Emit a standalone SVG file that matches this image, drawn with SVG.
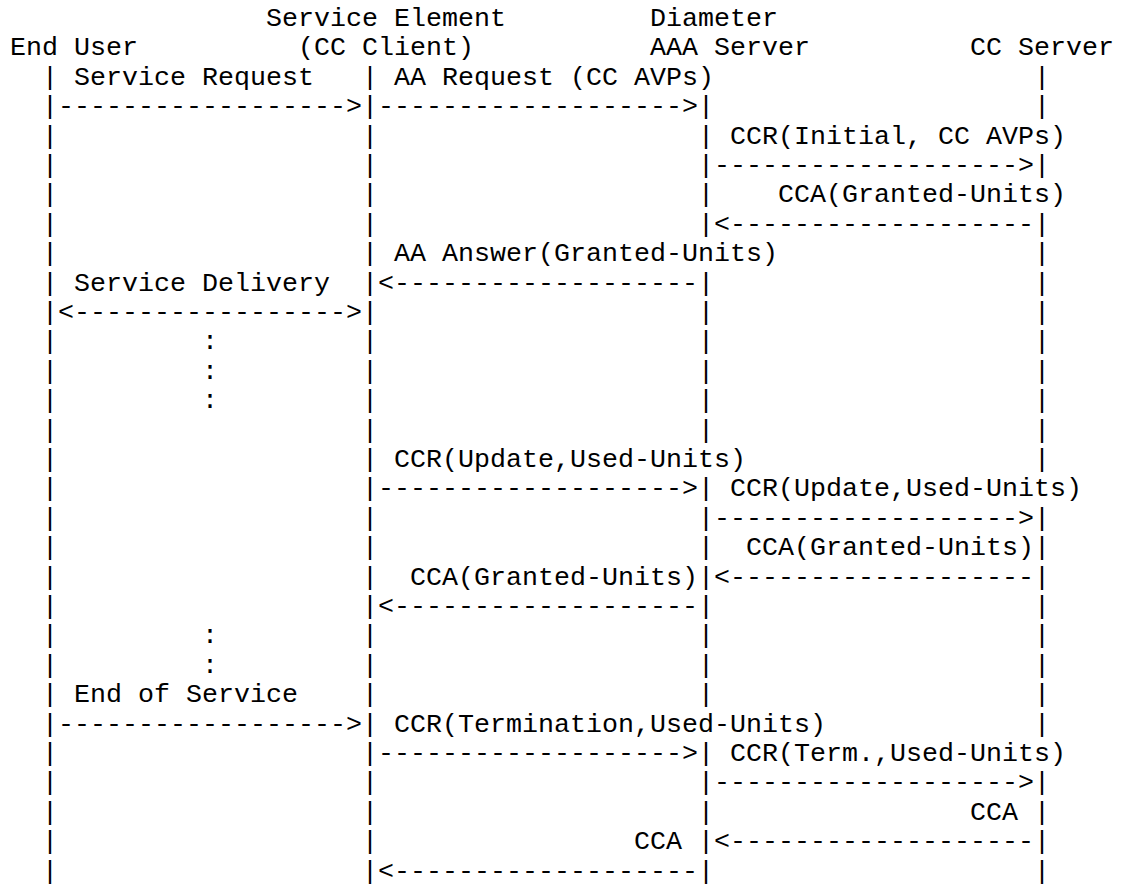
<svg xmlns="http://www.w3.org/2000/svg" width="1122" height="884" viewBox="0 0 1122 884">
<style>
text{font-family:"Liberation Mono","Courier New",monospace;font-size:26.667px;fill:#000;white-space:pre}
</style>
<rect width="1122" height="884" fill="#fff"/>
<g id="end-user">
<text x="10" y="55.4">End User</text>
<text><tspan x="42" y="84.8">|</tspan><tspan x="42" y="114.2">|</tspan><tspan x="42" y="143.6">|</tspan><tspan x="42" y="173">|</tspan><tspan x="42" y="202.4">|</tspan><tspan x="42" y="231.8">|</tspan><tspan x="42" y="261.2">|</tspan><tspan x="42" y="290.6">|</tspan><tspan x="42" y="320">|</tspan><tspan x="42" y="349.4">|</tspan><tspan x="42" y="378.8">|</tspan><tspan x="42" y="408.2">|</tspan><tspan x="42" y="437.6">|</tspan><tspan x="42" y="467">|</tspan><tspan x="42" y="496.4">|</tspan><tspan x="42" y="525.8">|</tspan><tspan x="42" y="555.2">|</tspan><tspan x="42" y="584.6">|</tspan><tspan x="42" y="614">|</tspan><tspan x="42" y="643.4">|</tspan><tspan x="42" y="672.8">|</tspan><tspan x="42" y="702.2">|</tspan><tspan x="42" y="731.6">|</tspan><tspan x="42" y="761">|</tspan><tspan x="42" y="790.4">|</tspan><tspan x="42" y="819.8">|</tspan><tspan x="42" y="849.2">|</tspan><tspan x="42" y="878.6">|</tspan></text>
</g>
<g id="service-element">
<text x="266" y="26">Service Element</text>
<text x="298" y="55.4">(CC Client)</text>
<text><tspan x="362" y="84.8">|</tspan><tspan x="362" y="114.2">|</tspan><tspan x="362" y="143.6">|</tspan><tspan x="362" y="173">|</tspan><tspan x="362" y="202.4">|</tspan><tspan x="362" y="231.8">|</tspan><tspan x="362" y="261.2">|</tspan><tspan x="362" y="290.6">|</tspan><tspan x="362" y="320">|</tspan><tspan x="362" y="349.4">|</tspan><tspan x="362" y="378.8">|</tspan><tspan x="362" y="408.2">|</tspan><tspan x="362" y="437.6">|</tspan><tspan x="362" y="467">|</tspan><tspan x="362" y="496.4">|</tspan><tspan x="362" y="525.8">|</tspan><tspan x="362" y="555.2">|</tspan><tspan x="362" y="584.6">|</tspan><tspan x="362" y="614">|</tspan><tspan x="362" y="643.4">|</tspan><tspan x="362" y="672.8">|</tspan><tspan x="362" y="702.2">|</tspan><tspan x="362" y="731.6">|</tspan><tspan x="362" y="761">|</tspan><tspan x="362" y="790.4">|</tspan><tspan x="362" y="819.8">|</tspan><tspan x="362" y="849.2">|</tspan><tspan x="362" y="878.6">|</tspan></text>
</g>
<g id="aaa-server">
<text x="650" y="26">Diameter</text>
<text x="650" y="55.4">AAA Server</text>
<text><tspan x="698" y="114.2">|</tspan><tspan x="698" y="143.6">|</tspan><tspan x="698" y="173">|</tspan><tspan x="698" y="202.4">|</tspan><tspan x="698" y="231.8">|</tspan><tspan x="698" y="290.6">|</tspan><tspan x="698" y="320">|</tspan><tspan x="698" y="349.4">|</tspan><tspan x="698" y="378.8">|</tspan><tspan x="698" y="408.2">|</tspan><tspan x="698" y="437.6">|</tspan><tspan x="698" y="496.4">|</tspan><tspan x="698" y="525.8">|</tspan><tspan x="698" y="555.2">|</tspan><tspan x="698" y="584.6">|</tspan><tspan x="698" y="614">|</tspan><tspan x="698" y="643.4">|</tspan><tspan x="698" y="672.8">|</tspan><tspan x="698" y="702.2">|</tspan><tspan x="698" y="761">|</tspan><tspan x="698" y="790.4">|</tspan><tspan x="698" y="819.8">|</tspan><tspan x="698" y="849.2">|</tspan><tspan x="698" y="878.6">|</tspan></text>
</g>
<g id="cc-server">
<text x="970" y="55.4">CC Server</text>
<text><tspan x="1034" y="84.8">|</tspan><tspan x="1034" y="114.2">|</tspan><tspan x="1034" y="173">|</tspan><tspan x="1034" y="231.8">|</tspan><tspan x="1034" y="261.2">|</tspan><tspan x="1034" y="290.6">|</tspan><tspan x="1034" y="320">|</tspan><tspan x="1034" y="349.4">|</tspan><tspan x="1034" y="378.8">|</tspan><tspan x="1034" y="408.2">|</tspan><tspan x="1034" y="437.6">|</tspan><tspan x="1034" y="467">|</tspan><tspan x="1034" y="525.8">|</tspan><tspan x="1034" y="555.2">|</tspan><tspan x="1034" y="584.6">|</tspan><tspan x="1034" y="614">|</tspan><tspan x="1034" y="643.4">|</tspan><tspan x="1034" y="672.8">|</tspan><tspan x="1034" y="702.2">|</tspan><tspan x="1034" y="731.6">|</tspan><tspan x="1034" y="790.4">|</tspan><tspan x="1034" y="819.8">|</tspan><tspan x="1034" y="849.2">|</tspan><tspan x="1034" y="878.6">|</tspan></text>
</g>
<g id="connectors">
<text x="58" y="114.2">------------------&gt;</text>
<text x="378" y="114.2">-------------------&gt;</text>
<text x="714" y="173">-------------------&gt;</text>
<text x="714" y="231.8">&lt;-------------------</text>
<text x="378" y="290.6">&lt;-------------------</text>
<text x="58" y="320">&lt;-----------------&gt;</text>
<text x="378" y="496.4">-------------------&gt;</text>
<text x="714" y="525.8">-------------------&gt;</text>
<text x="714" y="584.6">&lt;-------------------</text>
<text x="378" y="614">&lt;-------------------</text>
<text x="58" y="731.6">------------------&gt;</text>
<text x="378" y="761">-------------------&gt;</text>
<text x="714" y="790.4">-------------------&gt;</text>
<text x="714" y="849.2">&lt;-------------------</text>
<text x="378" y="878.6">&lt;-------------------</text>
</g>
<g id="labels">
<text x="74" y="84.8">Service Request</text>
<text x="394" y="84.8">AA Request (CC AVPs)</text>
<text x="730" y="143.6">CCR(Initial, CC AVPs)</text>
<text x="778" y="202.4">CCA(Granted-Units)</text>
<text x="394" y="261.2">AA Answer(Granted-Units)</text>
<text x="74" y="290.6">Service Delivery</text>
<text x="202" y="349.4">:</text>
<text x="202" y="378.8">:</text>
<text x="202" y="408.2">:</text>
<text x="394" y="467">CCR(Update,Used-Units)</text>
<text x="730" y="496.4">CCR(Update,Used-Units)</text>
<text x="746" y="555.2">CCA(Granted-Units)</text>
<text x="410" y="584.6">CCA(Granted-Units)</text>
<text x="202" y="643.4">:</text>
<text x="202" y="672.8">:</text>
<text x="74" y="702.2">End of Service</text>
<text x="394" y="731.6">CCR(Termination,Used-Units)</text>
<text x="730" y="761">CCR(Term.,Used-Units)</text>
<text x="970" y="819.8">CCA</text>
<text x="634" y="849.2">CCA</text>
</g>
</svg>
